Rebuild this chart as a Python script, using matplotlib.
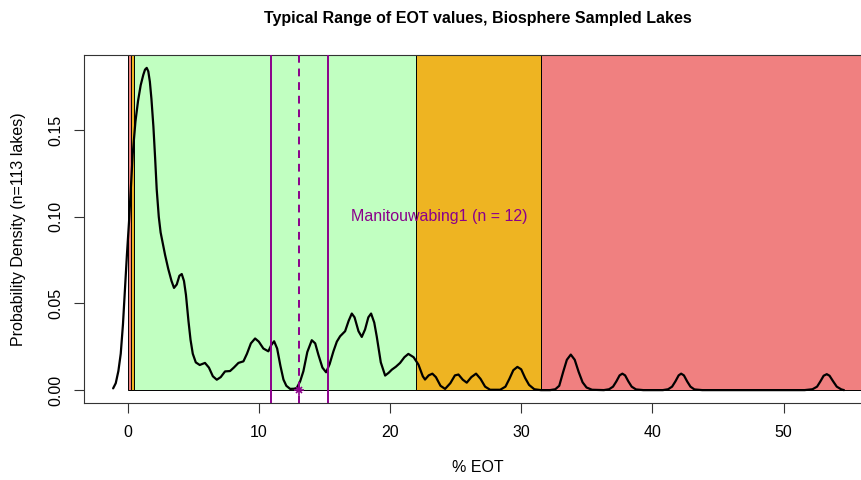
import matplotlib
matplotlib.use("Agg")
import matplotlib.pyplot as plt

plt.rcParams['font.family'] = ['Liberation Sans', 'DejaVu Sans']

# Density curve
dens_x = [-1.10, -0.90, -0.70, -0.52, -0.35, -0.19, -0.05, 0.11, 0.25, 0.39, 0.60, 0.80, 1.00, 1.20, 1.33, 1.46,
          1.58, 1.70, 1.82, 1.97, 2.10, 2.22, 2.38, 2.52, 2.68, 2.86, 3.10, 3.35, 3.54, 3.75, 3.95, 4.13, 4.30,
          4.45, 4.64, 4.80, 4.97, 5.20, 5.50, 5.90, 6.20, 6.50, 6.80, 7.10, 7.43, 7.81, 8.10, 8.45,
          8.83, 9.10, 9.40, 9.72, 10.00, 10.35, 10.73, 10.95, 11.17, 11.40, 11.65, 11.88, 12.10, 12.39,
          12.70, 12.90, 13.15, 13.40, 13.70, 14.04, 14.30, 14.54, 14.85, 15.13, 15.40, 15.69, 15.95,
          16.20, 16.58, 16.85, 17.09, 17.30, 17.60, 17.85, 18.10, 18.35, 18.56, 18.80, 18.99, 19.30,
          19.63, 19.90, 20.14, 20.45, 20.77, 21.10, 21.40, 21.80, 22.17, 22.50, 22.67, 22.95, 23.23,
          23.50, 23.85, 24.20, 24.60, 24.95, 25.22, 25.55, 25.85, 26.20, 26.56, 26.90, 27.25, 27.63,
          28.40, 28.80, 29.10, 29.40, 29.71, 30.00, 30.30, 30.60, 31.00, 31.50, 32.20, 32.60, 32.90,
          33.20, 33.48, 33.78, 34.08, 34.38, 34.68, 34.98, 35.40, 36.30, 36.70, 37.00, 37.25, 37.50,
          37.71, 37.92, 38.17, 38.42, 38.75, 39.30, 40.80, 41.20, 41.50, 41.75, 42.00, 42.19, 42.40,
          42.65, 42.90, 43.20, 43.80, 51.60, 52.20, 52.55, 52.80, 53.05, 53.29, 53.50, 53.78, 54.05,
          54.40, 54.60]
dens_y = [0.001, 0.004, 0.011, 0.021, 0.038, 0.059, 0.078, 0.097, 0.117, 0.136, 0.155, 0.167, 0.176, 0.182, 0.185, 0.186,
          0.184, 0.178, 0.168, 0.152, 0.134, 0.116, 0.100, 0.091, 0.085, 0.078, 0.070, 0.063, 0.059, 0.061, 0.066, 0.067, 0.063,
          0.055, 0.040, 0.029, 0.021, 0.016, 0.0145, 0.0157, 0.013, 0.008, 0.006, 0.0075, 0.0108, 0.011, 0.013, 0.0157,
          0.0166, 0.021, 0.027, 0.0298, 0.028, 0.024, 0.0224, 0.026, 0.0282, 0.024, 0.014, 0.0061, 0.0025, 0.0007,
          0.0008, 0.0013, 0.005, 0.0109, 0.022, 0.0288, 0.027, 0.0205, 0.013, 0.0103, 0.015, 0.0224, 0.028,
          0.0311, 0.034, 0.040, 0.0442, 0.042, 0.034, 0.0307, 0.035, 0.042, 0.0442, 0.039, 0.031, 0.016,
          0.0084, 0.010, 0.0118, 0.0135, 0.0157, 0.019, 0.0209, 0.019, 0.0147, 0.008, 0.0061, 0.0085, 0.0095,
          0.0075, 0.0025, 0.0007, 0.004, 0.0085, 0.009, 0.006, 0.0043, 0.0075, 0.0095, 0.0065, 0.002, 0.0002,
          0.0002, 0.002, 0.0065, 0.0115, 0.0134, 0.012, 0.007, 0.003, 0.0005, 0.0, 0.0, 0.0005, 0.0025,
          0.0105, 0.0175, 0.0205, 0.0175, 0.0105, 0.0045, 0.0015, 0.0002, 0.0, 0.0005, 0.002, 0.005, 0.0085,
          0.0095, 0.0085, 0.005, 0.002, 0.0004, 0.0, 0.0, 0.0005, 0.002, 0.005, 0.0085, 0.0095, 0.0085,
          0.005, 0.002, 0.0004, 0.0, 0.0, 0.0005, 0.002, 0.005, 0.0083, 0.0092, 0.0083, 0.005, 0.002,
          0.0004, 0.0]

# Background range bands
band_left = [0.0, 0.3, 0.52, 22.0, 31.5]
band_right = [0.3, 0.52, 22.0, 31.5, 70.0]
band_colors = ['#F08080', '#EEB422', '#C1FFC1', '#EEB422', '#F08080']

# Lake statistics
lake_name = "Manitouwabing1 (n = 12)"
lake_mean = 13.07
lake_low = 10.91
lake_high = 15.31

x_ticks = [0, 10, 20, 30, 40, 50]
y_ticks = [0.00, 0.05, 0.10, 0.15]
y_ticklabels = ["0.00", "0.05", "0.10", "0.15"]

FS = 11.5
W, H = 862, 480
fig = plt.figure(figsize=(W / 100, H / 100), dpi=100)
ax_l, ax_r, ax_t, ax_b = 84, 871, 55, 403
ax = fig.add_axes([ax_l / W, 1 - ax_b / H, (ax_r - ax_l) / W, (ax_b - ax_t) / H])
ax.set_xlim(-3.32, 56.66)
ax.set_ylim(-0.00744, 0.19344)

widths = [r - l for l, r in zip(band_left, band_right)]
ax.bar(band_left, [1.0] * len(band_left), width=widths, bottom=0, align='edge',
       color=band_colors, edgecolor='black', linewidth=0.7, zorder=1)

ax.plot(dens_x, dens_y, color='black', linewidth=1.6, zorder=3,
        solid_capstyle='round', solid_joinstyle='round')

purple = '#8B008B'
ax.axvline(lake_low, color=purple, linewidth=1.4, zorder=4)
ax.axvline(lake_high, color=purple, linewidth=1.4, zorder=4)
ax.axvline(lake_mean, color=purple, linewidth=1.4, linestyle=(0, (4, 3)), zorder=4)
ax.plot([lake_mean], [0], marker='+', color=purple, markersize=7, mew=1.2, zorder=5, clip_on=False)
ax.plot([lake_mean], [0], marker='x', color=purple, markersize=5, mew=1.2, zorder=5, clip_on=False)
ax.text(23.74, 0.10, lake_name, color=purple, fontsize=FS, ha='center', va='center', zorder=5)

for s in ['left', 'top', 'bottom']:
    ax.spines[s].set_color('#333333')
    ax.spines[s].set_linewidth(0.8)
ax.spines['right'].set_visible(False)

ax.set_xticks(x_ticks)
ax.set_xticklabels([str(t) for t in x_ticks])
ax.set_yticks(y_ticks)
ax.set_yticklabels(y_ticklabels, rotation=90, va='center')
ax.tick_params(axis='both', length=7, width=0.8, color='#333333', labelsize=FS)
ax.tick_params(axis='x', pad=9)
ax.tick_params(axis='y', pad=8)

fig.text(477.5 / W, 1 - 18 / H, "Typical Range of EOT values, Biosphere Sampled Lakes",
         ha='center', va='center', fontsize=FS, fontweight='bold')
fig.text(477.5 / W, 1 - 468 / H, "% EOT", ha='center', va='center', fontsize=FS)
fig.text(19 / W, 1 - 229 / H, "Probability Density (n=113 lakes)", rotation=90,
         ha='center', va='center', fontsize=FS)

fig.savefig('out.png', dpi=100)
